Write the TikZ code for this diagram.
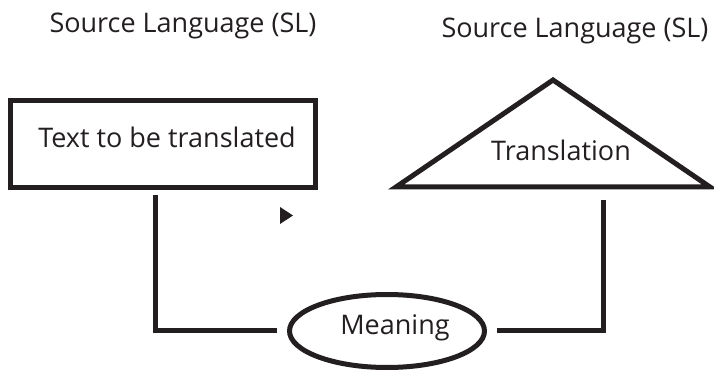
\documentclass[tikz,border=0pt]{standalone}
\usepackage{fontspec}
\setmainfont{Open Sans}
\usetikzlibrary{shapes.geometric,calc}
\definecolor{ink}{HTML}{231F20}
\tikzset{
  lbl/.style={text=ink, font=\fontsize{27}{32}\selectfont, inner sep=0pt},
  thick line/.style={draw=ink, line width=5pt},
}
\begin{document}
\begin{tikzpicture}[x=1pt,y=-1pt]
\useasboundingbox (0,0) rectangle (714,371);
% top labels
\node[lbl] (sl1) at (183,26) {Source Language (SL)};
\node[lbl] (sl2) at (575,31) {Source Language (SL)};
% source box
\node[thick line, rectangle, minimum width=305pt, minimum height=87pt, inner sep=0pt] (src) at (162.5,144.5) {};
\node[lbl] (srct) at (167,137) {Text to be translated};
% translation triangle
\coordinate (tA) at (553,80);
\coordinate (tL) at (396,187);
\coordinate (tR) at (710,187);
\draw[thick line, line join=miter] (tA) -- (tR) -- (tL) -- cycle;
\node[lbl] (trt) at (561,150) {Translation};
% meaning ellipse
\node[thick line, ellipse, minimum width=195pt, minimum height=73pt, inner sep=0pt] (mean) at (387,331) {};
\node[lbl, font=\fontsize{27}{32}\selectfont] (meant) at (395,328) {Meaning};
% connectors
\coordinate (lc) at (155,195);
\coordinate (rc) at (603,200);
\draw[thick line] (lc) |- ([xshift=-10pt]mean.west |- 0,330);
\draw[thick line] ([xshift=10pt]mean.east |- 0,330) -| (rc);
% small arrowhead
\fill[ink] (280,207) -- (293,215.5) -- (280,224) -- cycle;
\end{tikzpicture}
\end{document}
